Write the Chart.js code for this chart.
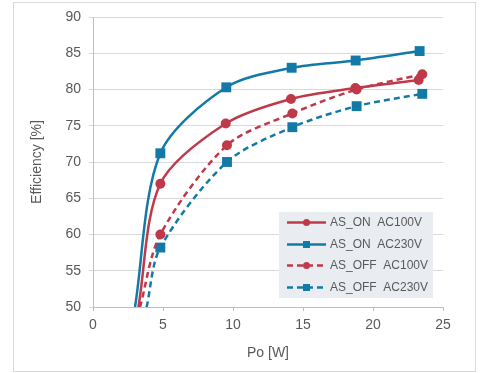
<!DOCTYPE html>
<html lang="en">
<head>
  <meta charset="UTF-8" />
  <title>Efficiency vs Po</title>
  <script src="https://cdn.jsdelivr.net/npm/chart.js"></script>
  <style>
    body {
      margin: 0;
      background: #fff;
    }

    #wrap {
      position: relative;
      width: 480px;
      height: 373px;
    }

    #frame {
      position: absolute;
      left: 13px;
      top: 2px;
      width: 461px;
      height: 368px;
      border: 1px solid #d9d9d9;
    }

    canvas {
      position: absolute;
      left: 0;
      top: 0;
    }
  </style>
</head>
<body>
  <div id="wrap">
    <div id="frame"></div>
    <canvas id="effChart" width="480" height="373"></canvas>
  </div>

  <script>
    // values; first point of each curve = where it leaves the 50% floor
    const onAc100X  = [3.24, 4.81, 9.48, 14.14, 18.74, 23.26];
    const onAc100Y  = [50, 67.0, 75.3, 78.7, 80.2, 81.3];
    const onAc230X  = [3.0, 4.81, 9.52, 14.19, 18.76, 23.33];
    const onAc230Y  = [50, 71.2, 80.3, 83.0, 84.0, 85.3];
    const offAc100X = [3.36, 4.81, 9.57, 14.24, 18.83, 23.52];
    const offAc100Y = [50, 60.0, 72.3, 76.7, 80.0, 82.1];
    const offAc230X = [3.83, 4.81, 9.57, 14.24, 18.83, 23.52];
    const offAc230Y = [50, 58.2, 70.0, 74.8, 77.7, 79.4];

    const seriesLabels = ['AS_ON  AC100V', 'AS_ON  AC230V', 'AS_OFF  AC100V', 'AS_OFF  AC230V'];

    const RED = '#c0394b';
    const BLUE = '#137aa8';
    const GRAY_TEXT = '#595959';

    function pares(xs, ys) {
      return xs.map((x, i) => ({ x: x, y: ys[i] }));
    }

    function serie(label, xs, ys, cor, estilo, tracejado) {
      return {
        label: label,
        data: pares(xs, ys),
        showLine: true,
        borderColor: cor,
        backgroundColor: cor,
        borderWidth: 2.5,
        borderDash: tracejado ? [6, 4] : [],
        tension: 0.3,
        pointStyle: estilo,
        pointRadius: ys.map(y => y <= 50 ? 0 : (estilo === 'rect' ? 7 : 5)),
        pointBorderWidth: 0,
        pointHoverRadius: 0
      };
    }

    // legend drawn inside the plot, bottom right
    const legendaInterna = {
      id: 'legendaInterna',
      afterDraw(chart) {
        const ctx = chart.ctx;
        const area = chart.chartArea;
        const w = 154, h = 86;
        const x0 = area.right - 10 - w;
        const y0 = area.bottom - 9 - h;
        ctx.save();
        ctx.fillStyle = '#e9edf2';
        ctx.fillRect(x0, y0, w, h);
        chart.data.datasets.forEach((ds, i) => {
          const y = Math.round(y0 + 10 + i * 21.7) + 0.5;
          ctx.strokeStyle = ds.borderColor;
          ctx.lineWidth = 2.5;
          ctx.setLineDash(ds.borderDash);
          ctx.beginPath();
          ctx.moveTo(x0 + 8, y);
          ctx.lineTo(x0 + 47, y);
          ctx.stroke();
          ctx.setLineDash([]);
          ctx.fillStyle = ds.borderColor;
          if (ds.pointStyle === 'rect') {
            ctx.fillRect(x0 + 24, y - 3.5, 7, 7);
          } else {
            ctx.beginPath();
            ctx.arc(x0 + 27.5, y, 3.5, 0, Math.PI * 2);
            ctx.fill();
          }
          ctx.fillStyle = GRAY_TEXT;
          ctx.font = '12px "Liberation Sans", Arial, sans-serif';
          ctx.textBaseline = 'middle';
          ctx.fillText(ds.label, x0 + 51, y);
        });
        ctx.restore();
      }
    };

    const fonte = { family: '"Liberation Sans", Arial, sans-serif', size: 14 };

    new Chart(document.getElementById('effChart').getContext('2d'), {
      type: 'scatter',
      data: {
        datasets: [
          serie(seriesLabels[0], onAc100X, onAc100Y, RED, 'circle', false),
          serie(seriesLabels[1], onAc230X, onAc230Y, BLUE, 'rect', false),
          serie(seriesLabels[2], offAc100X, offAc100Y, RED, 'circle', true),
          serie(seriesLabels[3], offAc230X, offAc230Y, BLUE, 'rect', true)
        ]
      },
      options: {
        responsive: false,
        animation: false,
        layout: { padding: { left: 13, top: 17, right: 37, bottom: 0 } },
        scales: {
          x: {
            min: 0,
            max: 25,
            afterFit: s => { s.height = 66; },
            ticks: { stepSize: 5, color: GRAY_TEXT, font: fonte, padding: 6 },
            grid: { drawOnChartArea: false, tickLength: 4, color: '#bfbfbf' },
            border: { color: '#bfbfbf' },
            title: { display: true, text: 'Po [W]', color: GRAY_TEXT, font: fonte, padding: { top: 4, bottom: 11 } }
          },
          y: {
            min: 50,
            max: 90,
            afterFit: s => { s.width = 80; },
            ticks: { stepSize: 5, color: GRAY_TEXT, font: fonte, padding: 8 },
            grid: { color: '#d9d9d9', tickLength: 4 },
            border: { color: '#bfbfbf' },
            title: { display: true, text: 'Efficiency [%]', color: GRAY_TEXT, font: fonte, padding: { top: 16, bottom: 2 } }
          }
        },
        plugins: {
          legend: { display: false },
          tooltip: { enabled: false }
        }
      },
      plugins: [legendaInterna]
    });
  </script>
</body>
</html>
